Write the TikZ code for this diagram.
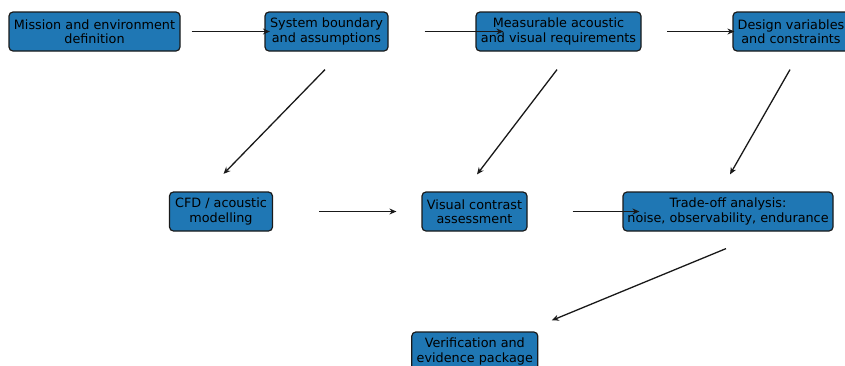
\documentclass[tikz,border=0pt]{standalone}
\usepackage{fontspec}
\setmainfont{DejaVu Sans}
\usetikzlibrary{arrows.meta}
\definecolor{boxblue}{HTML}{1F77B4}
\definecolor{edge}{HTML}{1A1A1A}
\tikzset{
  box/.style={draw=edge, line width=1.2pt, fill=boxblue, rounded corners=4pt,
    align=center, minimum height=39pt, inner sep=0pt, text=black,
    font=\fontsize{12.8}{14.4}\selectfont},
  arr/.style={draw=black!90, line width=1.3pt, -{Stealth[length=7pt,width=6pt]}}
}
\begin{document}
\begin{tikzpicture}[x=1pt,y=-1pt]
\useasboundingbox (0,0) rectangle (845,365);
\clip (0,0) rectangle (845,365);
\node[box, minimum width=171pt] (n1) at (94.5,31.5) {Mission and environment\\definition};
\node[box, minimum width=123pt] (n2) at (326.5,31.5) {System boundary\\and assumptions};
\node[box, minimum width=165pt] (n3) at (558.5,31.5) {Measurable acoustic\\and visual requirements};
\node[box, minimum width=116pt] (n4) at (791,31.5) {Design variables\\and constraints};
\node[box, minimum width=103pt] (n5) at (221,211.5) {CFD / acoustic\\modelling};
\node[box, minimum width=105pt] (n6) at (474.5,211.5) {Visual contrast\\assessment};
\node[box, minimum width=210pt] (n7) at (728,211.5) {Trade-off analysis:\\noise, observability, endurance};
\node[box, minimum width=126pt] (n8) at (474.8,351.5) {Verification and\\evidence package};

\draw[arr] ([xshift=11pt]n1.east) -- ([xshift=5.5pt]n2.west);
\draw[arr] ([xshift=36pt]n2.east) -- ([xshift=28pt]n3.west);
\draw[arr] ([xshift=25.5pt]n3.east) -- ([xshift=2pt]n4.west);
\draw[arr] ([shift={(-1.5,18)}]n2.south) -- ([shift={(2.5,-17.5)}]n5.north);
\draw[arr] ([shift={(-1.5,18)}]n3.south) -- ([shift={(2.5,-17)}]n6.north);
\draw[arr] ([shift={(-1,18)}]n4.south) -- ([shift={(2,-17)}]n7.north);
\draw[arr] ([xshift=46pt]n5.east) -- ([xshift=-25pt]n6.west);
\draw[arr] ([xshift=45pt]n6.east) -- ([xshift=17pt]n7.west);
\draw[arr] ([shift={(-2,17)}]n7.south) -- ([shift={(77,-11)}]n8.north);
\end{tikzpicture}
\end{document}
